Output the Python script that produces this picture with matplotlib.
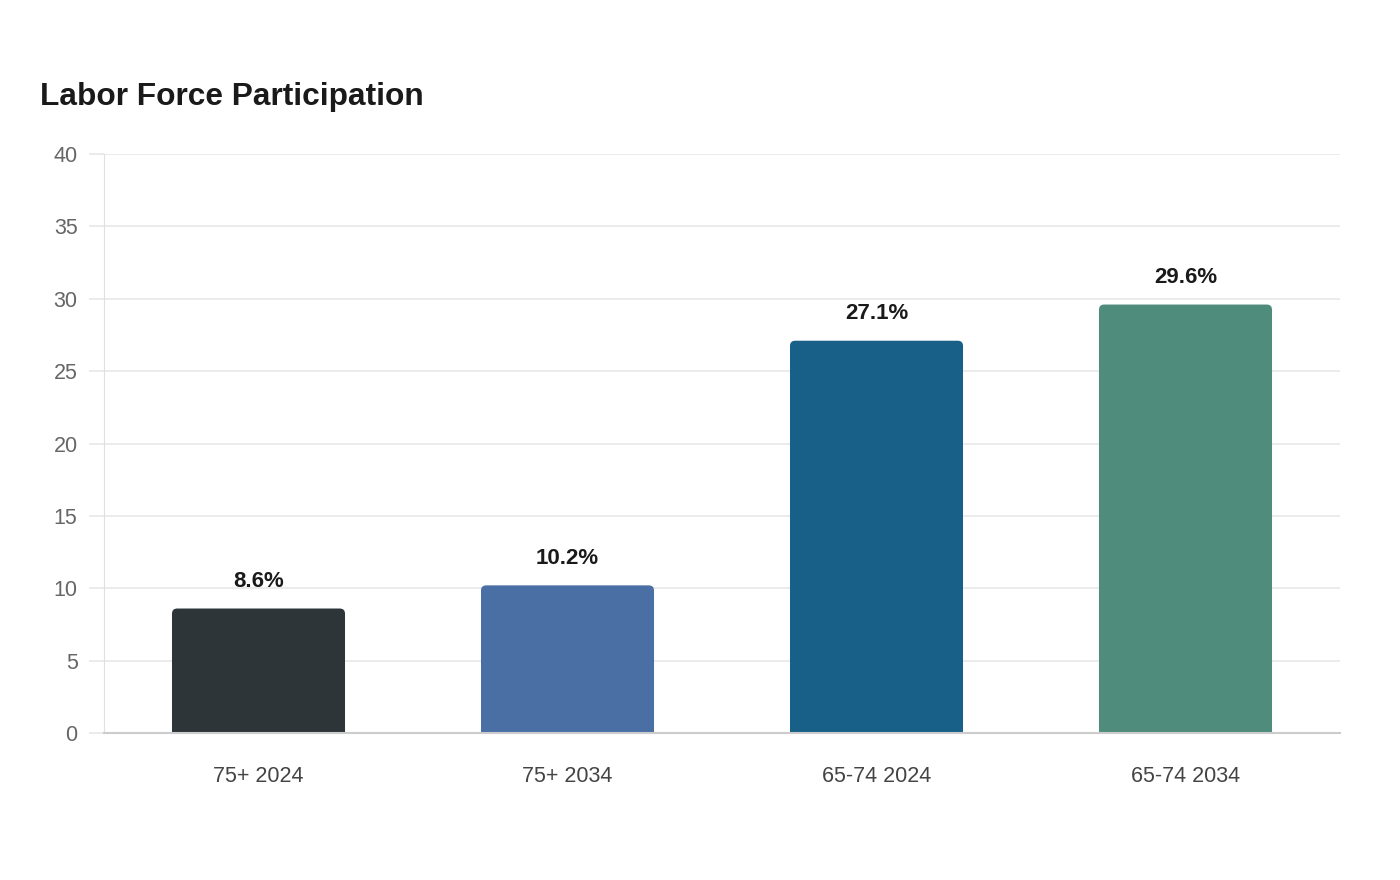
import matplotlib.pyplot as plt
from matplotlib.patches import FancyBboxPatch

plt.rcParams['font.family'] = ['Liberation Sans', 'DejaVu Sans']

# data
categories = ['75+ 2024', '75+ 2034', '65-74 2024', '65-74 2034']
values = [8.6, 10.2, 27.1, 29.6]
colors = ['#2e3538', '#4a6fa5', '#186088', '#4f8c7b']

fig = plt.figure(figsize=(14, 8.8), dpi=100)
ax = fig.add_axes([104 / 1400, 147 / 880, 1236 / 1400, 579 / 880])

x = list(range(len(categories)))
bar_w = 0.56
bars = ax.bar(x, values, width=bar_w, color=colors, alpha=0)

# rounded tops: redraw each bar as a rounded box, bottom hidden below the axis
aspect = (1236 / 4) / (579 / 40)
for b, c in zip(bars, colors):
    p = FancyBboxPatch((b.get_x(), -2), b.get_width(), b.get_height() + 2,
                       boxstyle='round,pad=0,rounding_size=0.017',
                       mutation_aspect=aspect, fc=c, ec='none', zorder=3)
    ax.add_patch(p)
    ax.annotate(f'{b.get_height():.1f}%', (b.get_x() + b.get_width() / 2, b.get_height()),
                xytext=(0, 12), textcoords='offset points', ha='center', va='bottom',
                fontsize=16, fontweight='bold', color='#1a1a1a')

ax.set_xlim(-0.5, 3.5)
ax.set_ylim(0, 40)
ax.set_yticks(range(0, 41, 5))
ax.set_xticks(x)
ax.set_xticklabels(categories)

ax.grid(axis='y', color='#e8e8e8', linewidth=1.2, zorder=0)
ax.set_axisbelow(True)
for s in ['top', 'right']:
    ax.spines[s].set_visible(False)
ax.spines['left'].set_color('#e0e0e0')
ax.spines['left'].set_linewidth(0.8)
ax.spines['bottom'].set_color('#cccccc')
ax.spines['bottom'].set_linewidth(1.5)
ax.spines['bottom'].set_zorder(4)

ax.tick_params(axis='y', length=11, color='#e8e8e8', width=1.2, pad=8,
               labelsize=15.5, labelcolor='#666666')
ax.tick_params(axis='x', length=0, pad=24, labelsize=15.5, labelcolor='#444444')

fig.text(40 / 1400, 1 - 97 / 880, 'Labor Force Participation', fontsize=22.8,
         fontweight='bold', color='#1a1a1a', ha='left', va='center')

fig.savefig('out.png', dpi=100, facecolor='white')
